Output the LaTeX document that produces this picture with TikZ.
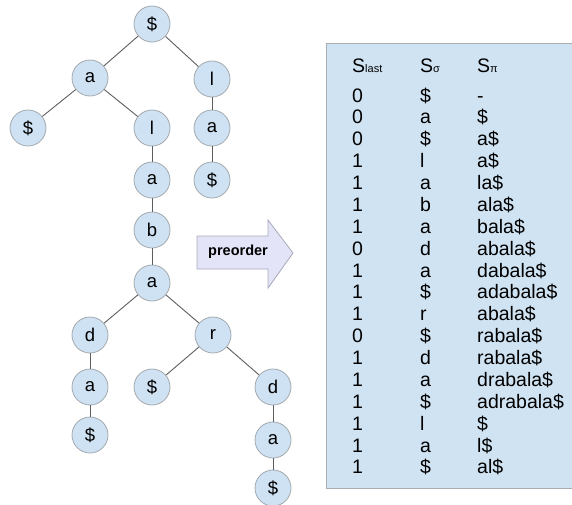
\documentclass[tikz,border=0pt]{standalone}
\usepackage{fontspec}
\setmainfont{Liberation Sans}
\definecolor{nodefill}{HTML}{CFE2F3}
\definecolor{nodeedge}{HTML}{A3A9AE}
\definecolor{edgegray}{HTML}{5E5E5E}
\definecolor{panelfill}{HTML}{D0E3F2}
\definecolor{paneledge}{HTML}{A8ADB2}
\definecolor{arrowfill}{HTML}{E4E4F9}
\definecolor{arrowedge}{HTML}{A9A9BC}
\begin{document}
\begin{tikzpicture}[x=1pt,y=-1pt,
  tn/.style={circle,draw=nodeedge,fill=nodefill,line width=0.8pt,
    minimum size=36pt,inner sep=0pt,font=\fontsize{18.5}{18.5}\selectfont},
  edge/.style={draw=edgegray,line width=0.9pt},
  cell/.style={anchor=base west,inner sep=0pt,font=\fontsize{19.5}{19.5}\selectfont}]
\useasboundingbox (0,0) rectangle (572,504);

% tree nodes
\node[tn] (n1)  at (152,24)  {\$};
\node[tn] (n2)  at (90,78)   {a};
\node[tn] (n3)  at (212,79)  {l};
\node[tn] (n4)  at (28,128)  {\$};
\node[tn] (n5)  at (152,128) {l};
\node[tn] (n6)  at (212,128) {a};
\node[tn] (n7)  at (212,180) {\$};
\node[tn] (n8)  at (152,180) {a};
\node[tn] (n9)  at (152,230) {b};
\node[tn] (n10) at (152,283) {a};
\node[tn] (n11) at (90,335)  {d};
\node[tn] (n12) at (213,335) {r};
\node[tn] (n13) at (90,387)  {a};
\node[tn] (n14) at (152,387) {\$};
\node[tn] (n15) at (273,387) {d};
\node[tn] (n16) at (90,435)  {\$};
\node[tn] (n17) at (273,440) {a};
\node[tn] (n18) at (273,488) {\$};

% tree edges
\foreach \p/\c in {n1/n2,n1/n3,n2/n4,n2/n5,n3/n6,n6/n7,n5/n8,n8/n9,n9/n10,
                   n10/n11,n10/n12,n11/n13,n13/n16,n12/n14,n12/n15,n15/n17,n17/n18}
  \draw[edge] (\p) -- (\c);

% preorder arrow
\draw[fill=arrowfill,draw=arrowedge,line width=0.8pt,line join=miter]
  (197,236) -- (268,236) -- (268,220) -- (293,253) -- (268,288) -- (268,269) -- (197,269) -- cycle;
\node[inner sep=0pt,font=\fontsize{14.5}{14.5}\selectfont\bfseries] (lbl) at (238,252) {preorder};

% table panel
\node[draw=paneledge,fill=panelfill,line width=1pt,anchor=north west,inner sep=0pt,
  minimum width=250pt,minimum height=445pt] (panel) at (326,43) {};

% header
\node[cell] (h1) at (352,72) {S\raisebox{-0.5pt}{\fontsize{11}{11}\selectfont last}};
\node[cell] (h2) at (420,72) {S\raisebox{-0.5pt}{\fontsize{11}{11}\selectfont σ}};
\node[cell] (h3) at (477,72) {S\raisebox{-0.5pt}{\fontsize{11}{11}\selectfont π}};

% rows
\foreach \a/\b/\c [count=\i] in {0/\$/-,0/a/\$,0/\$/a\$,1/l/a\$,1/a/la\$,1/b/ala\$,
    1/a/bala\$,0/d/abala\$,1/a/dabala\$,1/\$/adabala\$,1/r/abala\$,0/\$/rabala\$,
    1/d/rabala\$,1/a/drabala\$,1/\$/adrabala\$,1/l/\$,1/a/l\$,1/\$/al\$}{
  \pgfmathsetmacro{\yy}{102+(\i-1)*21.88}
  \node[cell] (r\i a) at (352,\yy) {\a};
  \node[cell] (r\i b) at (420,\yy) {\b};
  \node[cell] (r\i c) at (477,\yy) {\c};
}
\end{tikzpicture}
\end{document}
